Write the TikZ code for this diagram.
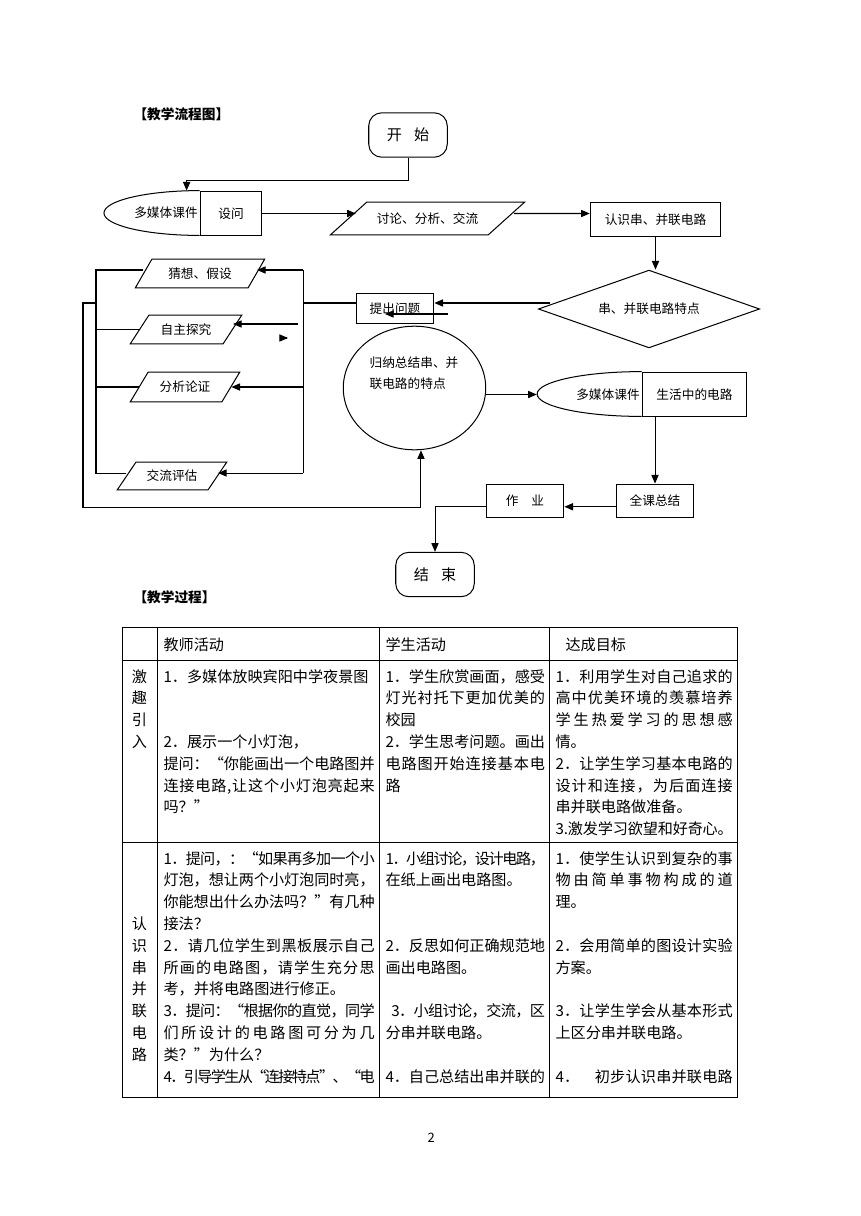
\documentclass[tikz,border=0pt]{standalone}
\usepackage{fontspec}
\setmainfont{Noto Sans CJK SC}
\usetikzlibrary{shapes.geometric}
\usetikzlibrary{arrows.meta}
\usetikzlibrary{calc}
\makeatletter
\newcommand\jline[2][0pt]{\leavevmode\hbox to\linewidth{\hspace*{#1}\jl@#2\relax\unskip}}
\def\jl@#1{\ifx\relax#1\else#1\hskip0pt plus 1fil minus 1fil\expandafter\jl@\fi}
\makeatother

\begin{document}
\begin{tikzpicture}[x=0.0244cm,y=-0.0244cm,line width=0.7pt,
  flow/.style={inner sep=0pt,font=\fontsize{8.8}{14.5}\selectfont},
  box/.style={rectangle,draw,flow},
  para/.style={trapezium,draw,flow,trapezium stretches body,text height=13.4pt,text depth=6.7pt},
  term/.style={rectangle,draw,rounded corners=9pt,inner sep=0pt,minimum width=54.5pt,minimum height=30.8pt,font=\fontsize{10.5}{12}\selectfont},
  arr/.style={-{Triangle[length=6pt,width=5pt]}},
  txt/.style={inner sep=0pt,anchor=base west,font=\fontsize{10.5}{15.15}\selectfont},
  cell/.style={txt,align=left},
  tabline/.style={line width=0.6pt}]
\useasboundingbox (0,0) rectangle (860,1216);

\node [txt,font=\fontsize{9.5}{12}\selectfont\bfseries] (title1) at (133,120) {【教学流程图】};

\node [term] (start) at (408,135) {开\hspace{0.8em}始};
\node [box,minimum width=42.9pt,minimum height=31.1pt] (media1) at (231,213.5) {设问};
\node [flow] (media1txt) at (166,213) {多媒体课件};
\node [para,trapezium left angle=42,trapezium right angle=138,minimum width=134.9pt,text height=14.75pt,text depth=8.05pt] (talk) at (427.5,218.5) {讨论、分析、交流};
\node [box,minimum width=90.6pt,minimum height=24.2pt] (know) at (655.5,219.5) {认识串、并联电路};
\node [diamond,draw,flow,shape aspect=2.8,minimum width=153.6pt,minimum height=54pt] (feature) at (649,309) {串、并联电路特点};
\node [box,minimum width=54pt,minimum height=21.4pt] (ask) at (395,308.5) {提出问题};
\node [para,trapezium left angle=60,trapezium right angle=120,minimum width=89.9pt] (guess) at (200,273.5) {猜想、假设};
\node [para,trapezium left angle=57,trapezium right angle=123,minimum width=77.5pt] (explore) at (186,329.5) {自主探究};
\node [para,trapezium left angle=59,trapezium right angle=121,minimum width=76.1pt,text height=13.75pt,text depth=7.05pt] (analyse) at (185,387) {分析论证};
\node [para,trapezium left angle=56,trapezium right angle=124,minimum width=76.1pt,text height=13.05pt,text depth=6.35pt] (exchange) at (172,476) {交流评估};
\node [ellipse,draw,minimum width=98.9pt,minimum height=85.8pt] (summ) at (414.5,388) {};
\node [flow,align=left] (summtxt) at (414,373) {归纳总结串、并\\联电路的特点};
\node [box,minimum width=72.6pt,minimum height=31.1pt] (media2) at (694.5,394.5) {生活中的电路};
\node [flow] (media2txt) at (608,394.5) {多媒体课件};
\node [box,minimum width=54pt,minimum height=23.5pt] (total) at (655,501) {全课总结};
\node [box,minimum width=54pt,minimum height=23.5pt] (work) at (525,501) {作\hspace{1em}业};
\node [term] (finish) at (435,574.5) {结\hspace{0.8em}束};

\draw (media1.north west) arc[start angle=90,end angle=270,x radius=66.4pt,y radius=15.56pt];
\draw (media2.north west) arc[start angle=90,end angle=270,x radius=72.6pt,y radius=15.56pt];

\draw [arr] (start.south) -- ++(0,23) -| ([xshift=-9pt]media1.north west);
\draw [arr] (media1.east) -- ($(media1.east -| talk.west)+(8,0)$);
\draw [arr] ($(talk.east)+(7,-5)$) -- ($(know.west)+(0,-6)$);
\draw [arr] (know.south) -- (know.south |- feature.north);
\coordinate (fw) at ($(feature.west)+(12,-6)$);
\draw [arr] (fw) -- (fw -| ask.east);
\coordinate (stray) at (448,314);
\draw [arr] (stray) -- ++(-63,0);

\coordinate (lvtop) at (96,270);
\coordinate (lvbot) at (96,473);
\coordinate (rvtop) at (303,270);
\coordinate (rvbot) at (303,473);
\draw (lvtop -| guess.west) -- (lvtop) -- (lvbot) -- (lvbot -| exchange.west);
\draw (rvtop) -- (rvbot);
\draw [arr] (rvtop) -- (rvtop -| guess.east);
\draw [arr] (rvbot) -- (rvbot -| exchange.east);
\draw (lvtop |- explore.west) -- (explore.west);
\draw (lvtop |- analyse.west) -- (analyse.west);
\draw [arr] (rvtop |- analyse.east) -- (analyse.east);
\coordinate (expin) at (298,324);
\draw [arr] (expin) -- (expin -| explore.east);
\coordinate (tip) at (288,338);
\draw [arr] ([xshift=-1pt]tip) -- (tip);
\draw (ask.west |- fw) -- (rvtop |- fw);
\coordinate (outer) at (83,507);
\draw [arr] (lvtop |- fw) -| (outer) -| ([xshift=4.5pt]summ.south);

\coordinate (m2tip) at ($(media2.west)+(-105,0)$);
\draw [arr] (summ.east |- m2tip) -- (m2tip);
\draw [arr] (media2.south -| total.north) -- (total.north);
\draw [arr] ([yshift=-4pt]total.west) -- ([yshift=-4pt]work.east);
\draw [arr] ([yshift=-4pt]work.west) -| (finish.north);

\node [txt,font=\fontsize{9.5}{12}\selectfont\bfseries] (title2) at (133,602) {【教学过程】};

\draw [tabline] (122,627) rectangle (737,1097);
\draw [tabline] (157,627) -- (157,1097);
\draw [tabline] (379,627) -- (379,1097);
\draw [tabline] (549,627) -- (549,1097);
\draw [tabline] (122,660) -- (737,660);
\draw [tabline] (122,842) -- (737,842);

\node [txt] (head1) at (163,650) {教师活动};
\node [txt] (head2) at (385,650) {学生活动};
\node [txt] (head3) at (565,650) {达成目标};

\node [cell,text width=13.8pt,align=center,anchor=base] (r1c1) at (139.5,682) {激\\趣\\引\\入};
\node [cell,text width=146.6pt] (r1c2) at (163,682) {1．多媒体放映宾阳中学夜景图\\ \mbox{}\\ \mbox{}\\ 2．展示一个小灯泡，\\ \jline{提问：“你能画出一个电路图并}\\ \jline{连接电路,让这个小灯泡亮起来}\\ 吗？”};
\node [cell,text width=110.7pt] (r1c3) at (385,682) {\jline{1．学生欣赏画面，感受}\\ \jline{灯光衬托下更加优美的}\\ 校园\\ \jline{2．学生思考问题。画出}\\ \jline{电路图开始连接基本电}\\ 路};
\node [cell,text width=123.1pt] (r1c4) at (555,682) {\jline{1．利用学生对自己追求的}\\ \jline{高中优美环境的羡慕培养}\\ \jline{学生热爱学习的思想感}\\ 情。\\ \jline{2．让学生学习基本电路的}\\ \jline{设计和连接，为后面连接}\\ 串并联电路做准备。\\ \jline{3.激发学习欲望和好奇心。}};

\node [cell,text width=13.8pt,align=center,anchor=base] (r2c1) at (139.5,864) {\mbox{}\\ \mbox{}\\ \mbox{}\\ 认\\识\\串\\并\\联\\电\\路};
\node [cell,text width=146.6pt] (r2c2) at (163,864) {\jline{1．提问，：“如果再多加一个小}\\ \jline{灯泡，想让两个小灯泡同时亮，}\\ \jline{你能想出什么办法吗？”有几种}\\ 接法？\\ \jline{2．请几位学生到黑板展示自己}\\ \jline{所画的电路图，请学生充分思}\\ 考，并将电路图进行修正。\\ \jline{3．提问：“根据你的直觉，同学}\\ \jline{们所设计的电路图可分为几}\\ 类？”为什么？\\ \jline{4．引导学生从“连接特点”、“电}};
\node [cell,text width=110.7pt] (r2c3) at (385,864) {\jline{1．小组讨论，设计电路，}\\ 在纸上画出电路图。\\ \mbox{}\\ \mbox{}\\ \jline{2．反思如何正确规范地}\\ 画出电路图。\\ \mbox{}\\ \jline[4pt]{3．小组讨论，交流，区}\\ 分串并联电路。\\ \mbox{}\\ \jline{4．自己总结出串并联的}};
\node [cell,text width=123.1pt] (r2c4) at (555,864) {\jline{1．使学生认识到复杂的事}\\ \jline{物由简单事物构成的道}\\ 理。\\ \mbox{}\\ \jline{2．会用简单的图设计实验}\\ 方案。\\ \mbox{}\\ \jline{3．让学生学会从基本形式}\\ 上区分串并联电路。\\ \mbox{}\\ \jline{4．\quad 初步认识串并联电路}};

\node [txt,font=\fontsize{9}{10}\selectfont] (pagenum) at (427,1142) {2};
\end{tikzpicture}
\end{document}
